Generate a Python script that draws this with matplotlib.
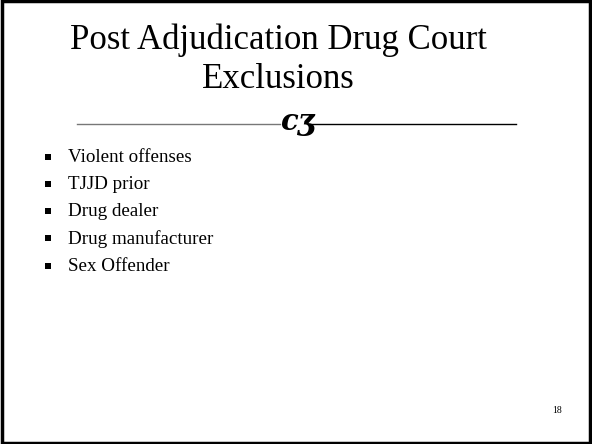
import matplotlib
matplotlib.use("Agg")
import matplotlib.pyplot as plt
from matplotlib.patches import Rectangle

title_lines = ["Post Adjudication Drug Court", "Exclusions"]
bullets = ["Violent offenses", "TJJD prior", "Drug dealer", "Drug manufacturer", "Sex Offender"]
page_number = "18"

W, H = 592, 444
fig = plt.figure(figsize=(W / 100, H / 100), dpi=100)
ax = fig.add_axes([0, 0, 1, 1])
ax.set_xlim(0, W)
ax.set_ylim(H, 0)
ax.axis("off")

serif = ["Liberation Serif", "DejaVu Serif"]

# frame
ax.add_patch(Rectangle((2, 1.5), W - 4, H - 3, fill=False, edgecolor="black", linewidth=2.5))

# title
ty = [40, 80]
for line, y in zip(title_lines, ty):
    ax.text(278, y, line, ha="center", va="center", fontsize=25, family=serif, color="black")

# divider with ornament
ax.plot([77, 280], [124, 124], color="#777777", linewidth=1.0)
ax.plot([310, 516], [124, 124], color="black", linewidth=1.0)
ax.text(297, 121, "cʒ", ha="center", va="center", fontsize=21, family=["DejaVu Serif"],
        fontweight="bold", fontstyle="italic", color="black")

# bullets
y0, dy = 157, 27.3
for i, b in enumerate(bullets):
    y = y0 + i * dy
    ax.add_patch(Rectangle((44.5, y - 3.5), 6, 6, facecolor="black", edgecolor="none"))
    ax.text(68, y, b, ha="left", va="center", fontsize=13.7, family=serif, color="black")

ax.text(557, 410, page_number, ha="center", va="center", fontsize=7, family=serif, color="black")

fig.savefig("out.png", dpi=100)
